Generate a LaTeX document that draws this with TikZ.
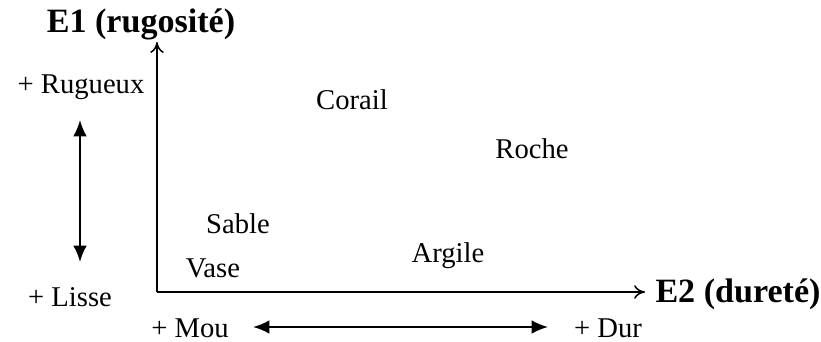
\documentclass[tikz,border=0pt]{standalone}
\usepackage{fontspec}
\setmainfont{Liberation Serif}
\usetikzlibrary{arrows.meta}

\tikzset{
    axe/.style = {line width=0.55pt, -{To[length=4pt,width=5pt]}},
    sens/.style = {line width=0.7pt, {Latex[length=6pt,width=5pt]}-{Latex[length=6pt,width=5pt]}},
    titre/.style = {font=\bfseries\fontsize{12.5}{15}\selectfont, inner sep=1pt},
    etiq/.style = {font=\fontsize{10.5}{12}\selectfont, inner sep=1pt}
}

\begin{document}
\begin{tikzpicture}[x=0.0129cm, y=-0.0129cm]
    % Fix the frame
    \useasboundingbox (0,0) rectangle (821,341);
    % Origin and axis ends
    \coordinate (O) at (157,292);
    \coordinate (Y) at (157,42);
    \coordinate (X) at (645,292);
    % Draw the axes
    \draw[axe] (O) -- (Y);
    \draw[axe] (O) -- (X);
    \node[titre] (E1) at (141,24) {E1 (rugosité)};
    \node[titre] (E2) at (738,294) {E2 (dureté)};

    % Left scale
    \node[etiq] (rug) at (81,87) {+ Rugueux};
    \node[etiq] (lis) at (70,297) {+ Lisse};
    \coordinate (R) at (80,120);
    \coordinate (L) at (80,262);
    \draw[sens] (R) -- (L);

    % Bottom scale
    \node[etiq] (mou) at (190,328) {+ Mou};
    \node[etiq] (dur) at (608,328) {+ Dur};
    \coordinate (M) at (253,327);
    \coordinate (D) at (548,327);
    \draw[sens] (M) -- (D);

    % Sediments
    \node[etiq] (corail) at (352,100) {Corail};
    \node[etiq] (roche) at (532,149) {Roche};
    \node[etiq] (sable) at (238,224) {Sable};
    \node[etiq] (vase) at (213,268) {Vase};
    \node[etiq] (argile) at (448,256) {Argile};
\end{tikzpicture}
\end{document}
